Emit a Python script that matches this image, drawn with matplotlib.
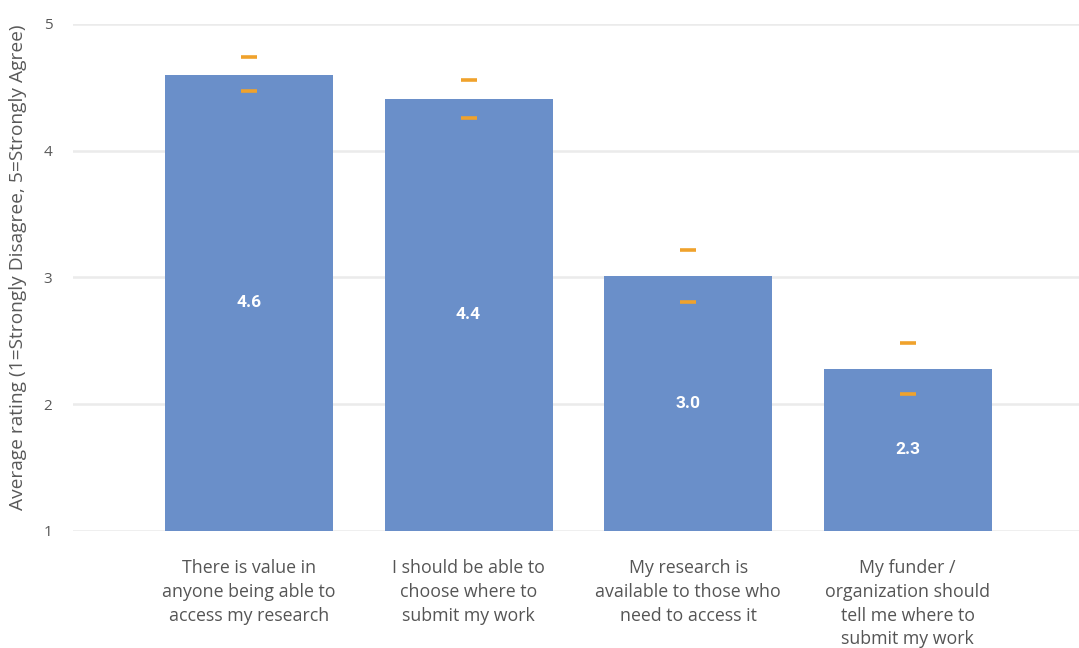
import matplotlib
matplotlib.use("Agg")
import matplotlib.pyplot as plt
import numpy as np

categories = [
    "There is value in\nanyone being able to\naccess my research",
    "I should be able to\nchoose where to\nsubmit my work",
    "My research is\navailable to those who\nneed to access it",
    "My funder /\norganization should\ntell me where to\nsubmit my work",
]
values = [4.6, 4.41, 3.01, 2.28]
value_labels = ["4.6", "4.4", "3.0", "2.3"]
upper = [4.74, 4.56, 3.22, 2.48]
lower = [4.47, 4.26, 2.81, 2.08]
yticks = [1, 2, 3, 4, 5]
ylabel = "Average rating (1=Strongly Disagree, 5=Strongly Agree)"

plt.rcParams['font.family'] = ['Open Sans', 'DejaVu Sans']

fig = plt.figure(figsize=(10.79, 6.48), dpi=100)
ax = fig.add_axes([0.0677, 0.1806, 0.9323, 0.7824])

x = np.arange(len(categories))
bar_color = "#6A8FC9"
ax.bar(x, np.array(values) - 1, bottom=1, width=0.765, color=bar_color, zorder=2)

for xi, v, lab in zip(x, values, value_labels):
    ax.text(xi, (1 + v) / 2, lab, ha='center', va='center', color='white',
            fontsize=12.5, fontweight='bold', family=['Roboto', 'DejaVu Sans'], zorder=4)

ax.plot(x, upper, linestyle='none', marker='_', ms=11, mew=2.6, color='#F0A22C', zorder=3)
ax.plot(x, lower, linestyle='none', marker='_', ms=11, mew=2.6, color='#F0A22C', zorder=3)

ax.set_ylim(1, 5)
ax.set_xlim(-0.802, 3.781)
ax.set_yticks(yticks)
ax.set_yticklabels([str(t) for t in yticks])
ax.set_xticks(x)
ax.set_xticklabels(categories, fontsize=12.8, color='#555555', linespacing=1.42, va='top')
ax.tick_params(axis='x', length=0, pad=20)
ax.tick_params(axis='y', length=0, pad=15, labelsize=11, labelcolor='#595959')
for lab in ax.get_yticklabels():
    lab.set_horizontalalignment('right')

ax.grid(axis='y', color='#EBEBEB', linewidth=1.8, zorder=0)
ax.set_axisbelow(True)
for s in ax.spines.values():
    s.set_visible(False)

ax.set_ylabel(ylabel, fontsize=13.8, color='#595959')
ax.yaxis.set_label_coords(-0.046, 0.52)

fig.savefig("out.png", dpi=100)
